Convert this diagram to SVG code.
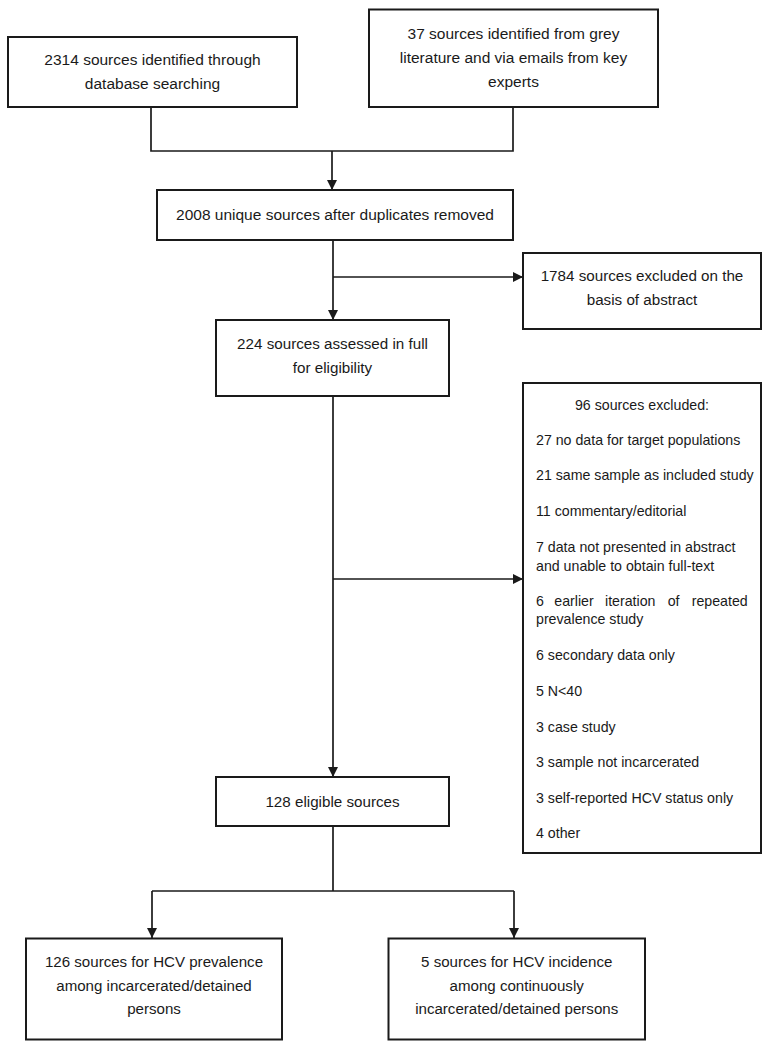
<svg xmlns="http://www.w3.org/2000/svg" width="770" height="1050" viewBox="0 0 770 1050">
<style>
  .box { fill: #ffffff; stroke: #1a1a1a; stroke-width: 2; }
  .t { font-family: "Liberation Sans", Arial, sans-serif; fill: #1a1a1a; }
  .c { text-anchor: middle; }
  .top { font-size: 15.5px; }
  .mid { font-size: 15.2px; }
  .lst { font-size: 14.2px; }
  .bot { font-size: 15.1px; }
  .ln { fill: none; stroke: #1a1a1a; stroke-width: 1.7; }
</style>
<defs>
  <marker id="ah" viewBox="0 0 10 10" refX="10" refY="5" markerWidth="10" markerHeight="10" markerUnits="userSpaceOnUse" orient="auto">
    <path d="M0,0 L10,5 L0,10 z" fill="#1a1a1a"/>
  </marker>
</defs>
<rect width="770" height="1050" fill="#ffffff"/>

<g id="connectors">
  <path class="ln" d="M151,107 V151 H513 V107"/>
  <path class="ln" d="M332,151 V190" marker-end="url(#ah)"/>
  <path class="ln" d="M333,240 V320" marker-end="url(#ah)"/>
  <path class="ln" d="M333,277 H523" marker-end="url(#ah)"/>
  <path class="ln" d="M333,396 V777" marker-end="url(#ah)"/>
  <path class="ln" d="M333,579 H523" marker-end="url(#ah)"/>
  <path class="ln" d="M333,826 V891"/>
  <path class="ln" d="M152,891 H514"/>
  <path class="ln" d="M152,891 V938" marker-end="url(#ah)"/>
  <path class="ln" d="M514,891 V938" marker-end="url(#ah)"/>
</g>

<g id="node-database">
  <rect class="box" x="8" y="37" width="289" height="70"/>
  <text class="t c top" x="152.5" y="65">2314 sources identified through</text>
  <text class="t c top" x="152.5" y="89">database searching</text>
</g>

<g id="node-grey">
  <rect class="box" x="369" y="9.5" width="289" height="97.5"/>
  <text class="t c top" x="513.5" y="39">37 sources identified from grey</text>
  <text class="t c top" x="513.5" y="63">literature and via emails from key</text>
  <text class="t c top" x="513.5" y="87">experts</text>
</g>

<g id="node-unique">
  <rect class="box" x="157" y="190" width="356" height="50"/>
  <text class="t c top" x="335" y="219.5">2008 unique sources after duplicates removed</text>
</g>

<g id="node-excluded-abstract">
  <rect class="box" x="523" y="253" width="238" height="76"/>
  <text class="t c mid" x="642" y="281">1784 sources excluded on the</text>
  <text class="t c mid" x="642" y="305">basis of abstract</text>
</g>

<g id="node-fulltext">
  <rect class="box" x="216" y="320" width="233" height="76"/>
  <text class="t c mid" x="332.5" y="348.5">224 sources assessed in full</text>
  <text class="t c mid" x="332.5" y="373">for eligibility</text>
</g>

<g id="node-excluded-fulltext">
  <rect class="box" x="523" y="383" width="238" height="470"/>
  <text class="t c lst" x="642" y="409.5">96 sources excluded:</text>
  <text class="t lst" x="536" y="444.5">27 no data for target populations</text>
  <text class="t lst" x="536" y="480">21 same sample as included study</text>
  <text class="t lst" x="536" y="516">11 commentary/editorial</text>
  <text class="t lst" x="536" y="552">7 data not presented in abstract</text>
  <text class="t lst" x="536" y="571">and unable to obtain full-text</text>
  <text class="t lst" y="606"><tspan x="536">6</tspan><tspan x="554.3">earlier</tspan><tspan x="605">iteration</tspan><tspan x="667.7">of</tspan><tspan x="691.7">repeated</tspan></text>
  <text class="t lst" x="536" y="624">prevalence study</text>
  <text class="t lst" x="536" y="660">6 secondary data only</text>
  <text class="t lst" x="536" y="696">5 N&lt;40</text>
  <text class="t lst" x="536" y="731.5">3 case study</text>
  <text class="t lst" x="536" y="767">3 sample not incarcerated</text>
  <text class="t lst" x="536" y="802.5">3 self-reported HCV status only</text>
  <text class="t lst" x="536" y="838">4 other</text>
</g>

<g id="node-eligible">
  <rect class="box" x="216" y="777" width="233" height="49"/>
  <text class="t c mid" x="332.5" y="807">128 eligible sources</text>
</g>

<g id="node-prevalence">
  <rect class="box" x="26" y="938.5" width="256" height="101"/>
  <text class="t c bot" x="154" y="967">126 sources for HCV prevalence</text>
  <text class="t c bot" x="154" y="990.5">among incarcerated/detained</text>
  <text class="t c bot" x="154" y="1013.5">persons</text>
</g>

<g id="node-incidence">
  <rect class="box" x="388.5" y="938.5" width="256.5" height="101"/>
  <text class="t c bot" x="516.7" y="967">5 sources for HCV incidence</text>
  <text class="t c bot" x="516.7" y="990.5">among continuously</text>
  <text class="t c bot" x="516.7" y="1013.5">incarcerated/detained persons</text>
</g>
</svg>
